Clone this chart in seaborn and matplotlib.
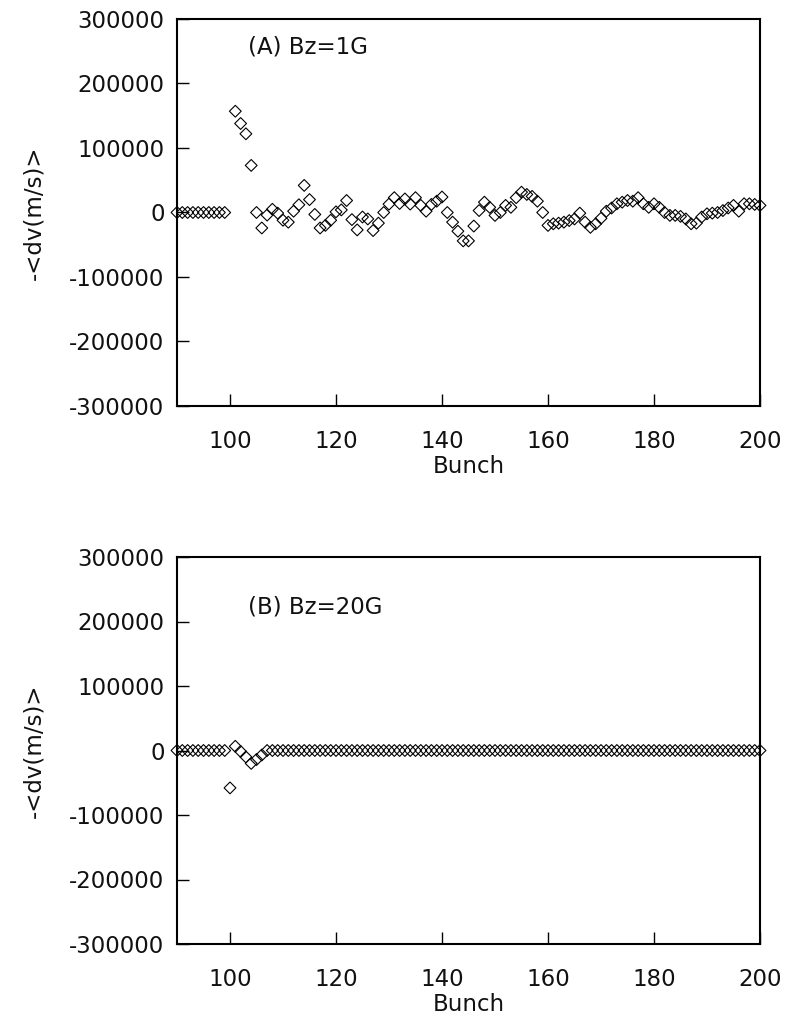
import numpy as np
import pandas as pd
import matplotlib
matplotlib.use("Agg")
import matplotlib.pyplot as plt
import seaborn as sns

# Bunch index, 90..200
bunch = list(range(90, 201))

# (A) Bz = 1G : -<dv> (m/s) per bunch; bunch 100 lies off scale
dv_1g = [
    0, 0, 0, 0, 0, 0, 0, 0, 0, 0,                         # 90-99
    np.nan, 157000, 138000, 122000, 73000,                # 100-104
    0, -24000, -4000, 5000, -1000,                        # 105-109
    -12000, -15000, 2000, 12000, 42000,                   # 110-114
    20000, -3000, -24000, -20000, -12000,                 # 115-119
    1000, 4000, 18600, -11000, -27000,                    # 120-124
    -7000, -10000, -28000, -16500, 0,                     # 125-129
    13000, 23000, 14000, 21000, 13000,                    # 130-134
    23000, 11000, 2000, 12500, 17500,                     # 135-139
    24000, 0, -15000, -29000, -44000,                     # 140-144
    -44000, -21000, 3000, 16000, 8000,                    # 145-149
    -4500, 0, 11000, 8000, 23000,                         # 150-154
    31500, 28000, 25000, 17500, 0,                        # 155-159
    -20000, -17500, -16500, -15000, -12500,               # 160-164
    -10000, -1000, -15000, -23000, -17500,                # 165-169
    -9000, 2000, 7000, 13500, 16000,                      # 170-174
    18600, 17500, 23000, 13500, 8000,                     # 175-179
    13500, 8000, 0, -4500, -4500,                         # 180-184
    -6000, -10000, -17500, -16500, -7000,                 # 185-189
    -2000, -1000, 0, 3000, 7000,                          # 190-194
    11000, 2000, 13500, 13500, 12500,                     # 195-199
    11000,                                                # 200
]

# (B) Bz = 20G : -<dv> (m/s) per bunch
dv_20g = [0] * 10 + [-58000, 6500, -1500, -10000, -20000, -14000, -7000] + [0] * 94

xticks = [100, 120, 140, 160, 180, 200]
yticks = [-300000, -200000, -100000, 0, 100000, 200000, 300000]
panel_labels = ["(A) Bz=1G", "(B) Bz=20G"]
label_pos = [(103.4, 257000), (103.4, 223000)]

sns.set_theme(style="white")
plt.rcParams["font.family"] = ["DejaVu Sans"]

W, H = 785, 1026
fig = plt.figure(figsize=(W / 100, H / 100), dpi=100)

def axes_px(left, top, right, bottom):
    return fig.add_axes([left / W, 1 - bottom / H, (right - left) / W, (bottom - top) / H])

ax_a = axes_px(177, 19, 760, 406)
ax_b = axes_px(177, 557, 760, 944)

for ax, values, label, pos in zip((ax_a, ax_b), (dv_1g, dv_20g), panel_labels, label_pos):
    df = pd.DataFrame({"Bunch": bunch, "dv": values}).dropna()
    sns.scatterplot(data=df, x="Bunch", y="dv", ax=ax, marker="D", s=36,
                    facecolor="none", edgecolor="black", linewidth=0.8,
                    clip_on=False, zorder=3)
    ax.set_xlim(90, 200)
    ax.set_ylim(-300000, 300000)
    ax.set_xticks(xticks)
    ax.set_yticks(yticks)
    ax.set_xticklabels([str(t) for t in xticks])
    ax.set_yticklabels([str(t) for t in yticks])
    ax.tick_params(axis="both", direction="in", length=8.5, width=1.0,
                   color="black", labelsize=16.5, labelcolor="#111111")
    ax.tick_params(axis="x", pad=17)
    ax.tick_params(axis="y", pad=9)
    ax.tick_params(top=False, right=False, bottom=True, left=True)
    for sp in ax.spines.values():
        sp.set_color("black")
        sp.set_linewidth(1.5)
    ax.set_xlabel("Bunch", fontsize=16.5, color="#111111", labelpad=1.5)
    ax.set_ylabel("-<dv(m/s)>", fontsize=16.5, color="#111111", labelpad=17)
    ax.text(pos[0], pos[1], label, fontsize=16.5, color="#111111",
            ha="left", va="center")

fig.savefig("out.png", dpi=100, facecolor="white")
